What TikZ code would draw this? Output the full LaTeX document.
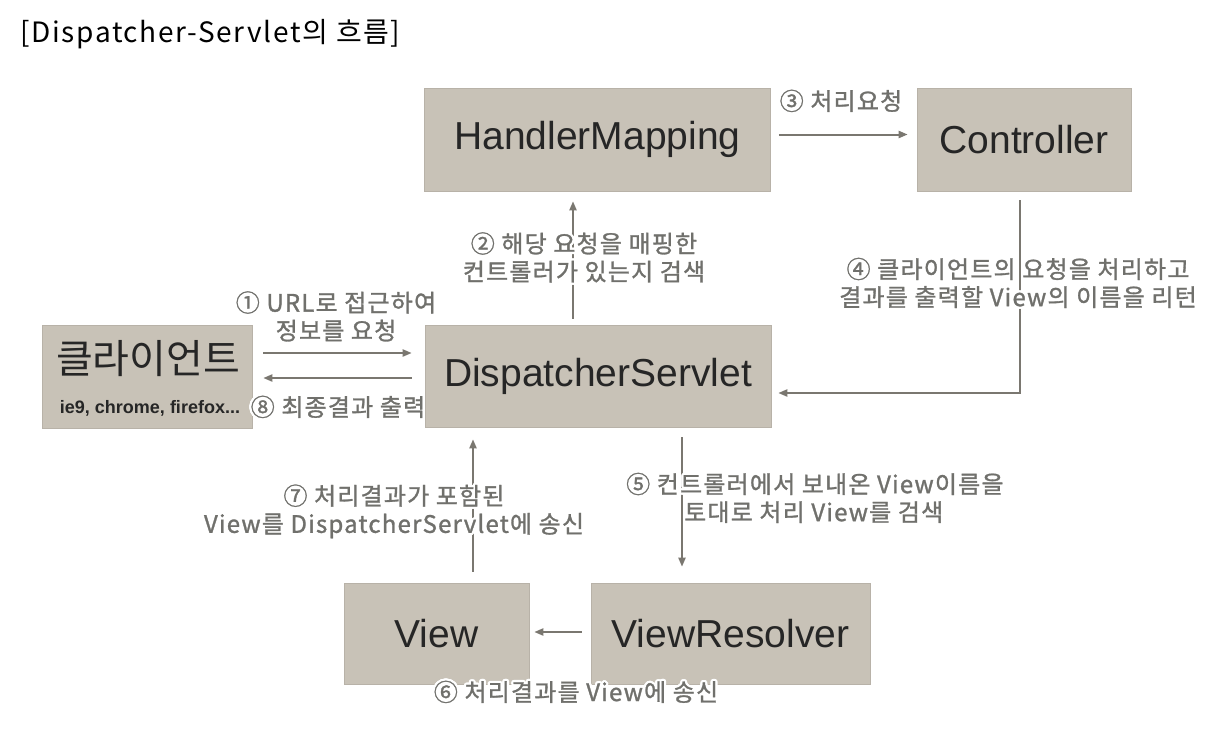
\documentclass[tikz,border=0pt]{standalone}
\usepackage{fontspec}
\setmainfont{Noto Sans CJK KR}
\newfontfamily\boxfont{Liberation Sans}
\newfontfamily\krfont{Noto Sans CJK KR}
\newfontfamily\labfont[LetterSpace=5,FakeBold=1.2]{Noto Sans CJK KR}
\newfontfamily\titlefont[LetterSpace=6]{Noto Sans CJK KR}
\usepackage{contour}
\contourlength{2.2pt}
\usetikzlibrary{arrows.meta,calc}
\definecolor{boxfill}{RGB}{200,194,183}
\definecolor{arrowgray}{RGB}{122,119,112}
\definecolor{labelgray}{RGB}{112,112,108}
\definecolor{boxtext}{RGB}{38,38,38}
\newcommand{\hl}[1]{\contour{white}{#1}}
\tikzset{
  box/.style={fill=boxfill, draw=boxfill!92!black, line width=0.6pt, inner sep=0pt,
    text=boxtext, font=\boxfont\fontsize{39}{39}\selectfont},
  arr/.style={draw=arrowgray, line width=2pt, -{Triangle[length=9pt,width=7pt]}},
  lab/.style={text=labelgray, font=\labfont\fontsize{24}{28}\selectfont, align=center, inner sep=0pt},
}
\begin{document}
\begin{tikzpicture}[x=1pt,y=-1pt]
\useasboundingbox (0,0) rectangle (1232,732);
\fill[white] (0,0) rectangle (1232,732);

% title
\node[anchor=west, inner sep=0pt, font=\titlefont\fontsize{28}{28}\selectfont] (title) at (20,34) {[Dispatcher-Servlet의 흐름]};

% boxes
\node[box, minimum width=346, minimum height=103] (hm) at (597.5,139.5) {HandlerMapping};
\node[box, minimum width=214, minimum height=103] (ctrl) at (1024,139.5) {Controller};
\node[box, minimum width=210, minimum height=103] (client) at (147,376.5) {};
\node[inner sep=0pt, text=boxtext, font=\krfont\fontsize{40}{40}\selectfont] (clientname) at (148,359) {클라이언트};
\node[inner sep=0pt, text=boxtext, font=\boxfont\bfseries\fontsize{18}{18}\selectfont] (clientsub) at (150,408) {ie9, chrome, firefox...};
\node[box, minimum width=346, minimum height=102] (ds) at (598,376) {DispatcherServlet};
\node[box, minimum width=185, minimum height=101] (view) at (436.5,633.5) {View};
\node[box, minimum width=279, minimum height=101] (vr) at (730.5,633.5) {ViewResolver};

% connectors
\draw[arr] ($(client.east)+(11,-23.5)$) -- ($(ds.west)+(-13,-23)$);
\draw[arr] ($(ds.west)+(-13,2)$) -- ($(client.east)+(11,1.5)$);
\draw[arr] ($(ds.north)+(-25,-6)$) -- ($(hm.south)+(-24.5,10)$);
\draw[arr] ($(hm.east)+(8,-5)$) -- ($(ctrl.west)+(-9,-5)$);
\draw[arr] ($(ctrl.south)+(-4,9)$) |- ($(ds.east)+(7,17)$);
\draw[arr] ($(ds.south)+(84,10)$) -- ($(vr.north)+(-48.5,-16)$);
\draw[arr] ($(vr.west)+(-9,-1.5)$) -- ($(view.east)+(5,-1.5)$);
\draw[arr] ($(view.north)+(36.5,-11)$) -- ($(ds.south)+(-125,12)$);

% labels
\node[lab] (l1) at (336,317.5) {\hl{① URL로 접근하여}\\\hl{정보를 요청}};
\node[lab] (l2) at (584,258.5) {\hl{② 해당 요청을 매핑한}\\\hl{컨트롤러가 있는지 검색}};
\node[lab] (l3) at (841,102) {\hl{③ 처리요청}};
\node[lab] (l4) at (1018,284) {\hl{④ 클라이언트의 요청을 처리하고}\\\hl{결과를 출력할 View의 이름을 리턴}};
\node[lab, align=left, anchor=west] (l5) at (626,499) {\hl{⑤ 컨트롤러에서 보내온 View이름을}\\\hspace{58pt}\hl{토대로 처리 View를 검색}};
\node[lab] (l6) at (576,693) {\hl{⑥ 처리결과를 View에 송신}};
\node[lab] (l7) at (394,512.5) {\hl{⑦ 처리결과가 포함된}\\\hl{View를 DispatcherServlet에 송신}};
\node[lab] (l8) at (338,408) {\hl{⑧ 최종결과 출력}};
\end{tikzpicture}
\end{document}
